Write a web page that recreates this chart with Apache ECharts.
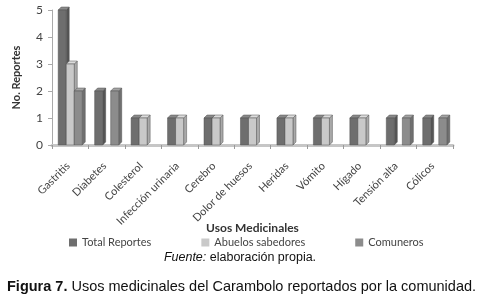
<!DOCTYPE html>
<html>
<head>
<meta charset="utf-8">
<script src="https://cdn.jsdelivr.net/npm/echarts@6/dist/echarts.min.js"></script>
<style>
  html, body { margin: 0; padding: 0; background: #fff; }
  #chart { width: 480px; height: 301px; }
</style>
</head>
<body>
<div id="chart"></div>
<script>
// categorias y valores
var categories = ['Gastritis', 'Diabetes', 'Colesterol', 'Infección urinaria', 'Cerebro',
  'Dolor de huesos', 'Heridas', 'Vómito', 'Hígado', 'Tensión alta', 'Cólicos'];
var totalReportes = [5, 2, 1, 1, 1, 1, 1, 1, 1, 1, 1];
var abuelosSabedores = [3, 0, 1, 1, 1, 1, 1, 1, 1, 0, 0];
var comuneros = [2, 2, 0, 0, 0, 0, 0, 0, 0, 1, 1];
var yTicks = [0, 1, 2, 3, 4, 5];

var myChart = echarts.init(document.getElementById('chart'));

// barras con efecto 3D (frente, lado y tapa)
function bar3d(name, data, slot, front, side, top) {
  return {
    name: name,
    type: 'custom',
    itemStyle: { color: front },
    data: data.map(function (v, i) { return [i, v]; }),
    encode: { x: 0, y: 1 },
    renderItem: function (params, api) {
      var val = api.value(1);
      if (!val) return null;
      var idx = api.value(0);
      var p = api.coord([idx, val]);
      var b = api.coord([idx, 0]);
      var band = api.size([1, 0])[0];
      var w = band * 0.22;
      var d = 3;
      var x0 = p[0] - 1.5 * w + slot * w;
      var yt = p[1], yb = b[1];
      var st = { stroke: '#505050', lineWidth: 0.5 };
      return {
        type: 'group',
        children: [
          { type: 'polygon', shape: { points: [[x0 + w, yt], [x0 + w + d, yt - d], [x0 + w + d, yb - d], [x0 + w, yb]] },
            style: Object.assign({ fill: side }, st) },
          { type: 'polygon', shape: { points: [[x0, yt], [x0 + d, yt - d], [x0 + w + d, yt - d], [x0 + w, yt]] },
            style: Object.assign({ fill: top }, st) },
          { type: 'rect', shape: { x: x0, y: yt, width: w, height: yb - yt },
            style: Object.assign({ fill: front }, st) }
        ]
      };
    }
  };
}

var option = {
  animation: false,
  grid: { left: 52, right: 27, top: 10, bottom: 156 },
  legend: {
    left: 64, top: 232,
    itemWidth: 8, itemHeight: 8, itemGap: 50,
    icon: 'rect',
    textStyle: { fontFamily: 'Lato', fontSize: 11, color: '#444' },
    data: ['Total Reportes', 'Abuelos sabedores', 'Comuneros']
  },
  xAxis: {
    type: 'category',
    data: categories,
    name: 'Usos Medicinales',
    nameLocation: 'middle',
    nameGap: 77,
    nameMoveOverlap: false,
    nameTextStyle: { fontFamily: 'Lato', fontWeight: 'bold', fontSize: 12, color: '#333' },
    axisLine: { lineStyle: { color: '#c6c6c6', width: 3 } },
    axisTick: { show: true, lineStyle: { color: '#999' }, length: 4 },
    axisLabel: { rotate: 45, interval: 0, fontFamily: 'Lato', fontSize: 11, color: '#444', margin: 17, padding: [0, 3, 0, 0] }
  },
  yAxis: {
    type: 'value',
    min: 0, max: 5, interval: 1,
    name: 'No. Reportes',
    nameLocation: 'middle',
    nameGap: 30,
    nameTextStyle: { fontFamily: 'Lato', fontWeight: 'bold', fontSize: 11, color: '#333' },
    axisLine: { show: true, lineStyle: { color: '#aaa' } },
    axisTick: { show: true, lineStyle: { color: '#aaa' }, length: 4 },
    splitLine: { show: false },
    axisLabel: {
      fontFamily: 'Lato', fontSize: 12, color: '#444', margin: 9,
      formatter: function (v) { return yTicks.indexOf(v) >= 0 ? String(v) : ''; }
    }
  },
  series: [
    bar3d('Total Reportes', totalReportes, 0, '#6e6e6e', '#555555', '#8a8a8a'),
    bar3d('Abuelos sabedores', abuelosSabedores, 1, '#c9c9c9', '#a9a9a9', '#dcdcdc'),
    bar3d('Comuneros', comuneros, 2, '#8c8c8c', '#707070', '#a4a4a4')
  ],
  graphic: [
    {
      type: 'text', left: 'center', top: 251,
      style: {
        text: '{i|Fuente:} elaboración propia.',
        font: '12.5px "Liberation Sans"', fill: '#111',
        rich: { i: { fontStyle: 'italic', fontFamily: 'Liberation Sans', fontSize: 12.5 } }
      }
    },
    {
      type: 'text', left: 7, top: 279,
      style: {
        text: '{b|Figura 7.} Usos medicinales del Carambolo reportados por la comunidad.',
        font: '14.5px "Liberation Sans"', fill: '#111',
        rich: { b: { fontWeight: 'bold', fontFamily: 'Liberation Sans', fontSize: 14.5 } }
      }
    }
  ]
};
myChart.setOption(option);
</script>
</body>
</html>
